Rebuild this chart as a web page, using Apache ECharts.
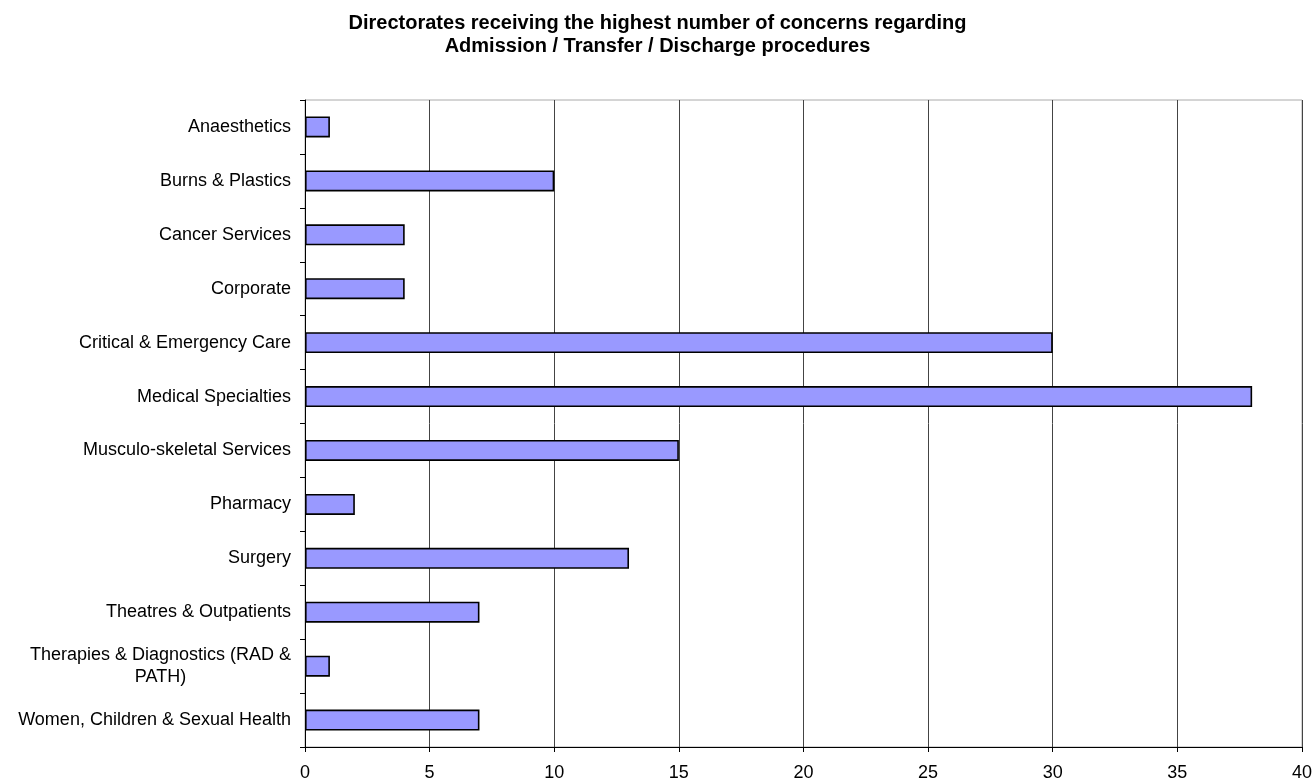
<!DOCTYPE html>
<html><head><meta charset="utf-8">
<script src="https://cdn.jsdelivr.net/npm/echarts@6/dist/echarts.min.js"></script>
<style>html,body{margin:0;padding:0;background:#fff}#c{width:1315px;height:782px}</style>
</head><body><div id="c"></div>
<script>
const categories = ["Anaesthetics","Burns & Plastics","Cancer Services","Corporate","Critical & Emergency Care","Medical Specialties","Musculo-skeletal Services","Pharmacy","Surgery","Theatres & Outpatients","Therapies & Diagnostics (RAD &\nPATH)","Women, Children & Sexual Health"];
const values = [1,10,4,4,30,38,15,2,13,7,1,7];
const xTicks = [0,5,10,15,20,25,30,35,40];
const titleText = "Directorates receiving the highest number of concerns regarding\nAdmission / Transfer / Discharge procedures";

const chart = echarts.init(document.getElementById('c'), null, {renderer:'canvas'});
chart.setOption({
  animation:false,
  title:{text:titleText,left:'center',top:7,textStyle:{fontFamily:'Liberation Sans, Arial',fontSize:20,fontWeight:'bold',color:'#000',lineHeight:23}},
  grid:{left:305,right:12,top:100,bottom:34,containLabel:false,show:true,borderColor:'#aaa',borderWidth:1},
  xAxis:{type:'value',min:0,max:40,interval:5,
    axisLine:{show:true,lineStyle:{color:'#000',width:1}},
    axisTick:{show:true,length:5,lineStyle:{color:'#000'}},
    axisLabel:{fontFamily:'Liberation Sans, Arial',fontSize:18,color:'#000',margin:17,formatter:v=>xTicks.includes(v)?String(v):''},
    splitLine:{show:true,lineStyle:{color:'#444',width:1}}},
  yAxis:{type:'category',data:categories,inverse:true,
    axisLine:{show:true,lineStyle:{color:'#000',width:1}},
    axisTick:{show:true,length:5,lineStyle:{color:'#000'}},
    axisLabel:{fontFamily:'Liberation Sans, Arial',fontSize:18,color:'#000',margin:14,align:'right',lineHeight:22,
      formatter:function(v){
        if(v.indexOf('\n')<0) return v;
        return v.split('\n').map(s=>'{c|'+s+'}').join('\n');
      },
      rich:{c:{fontFamily:'Liberation Sans, Arial',fontSize:18,color:'#000',width:261,align:'center',lineHeight:22}}},
    splitLine:{show:false}},
  series:[{type:'bar',data:values,barWidth:21,
    itemStyle:{color:'#9999FF',borderColor:'#000',borderWidth:1.6}}]
});
</script></body></html>
